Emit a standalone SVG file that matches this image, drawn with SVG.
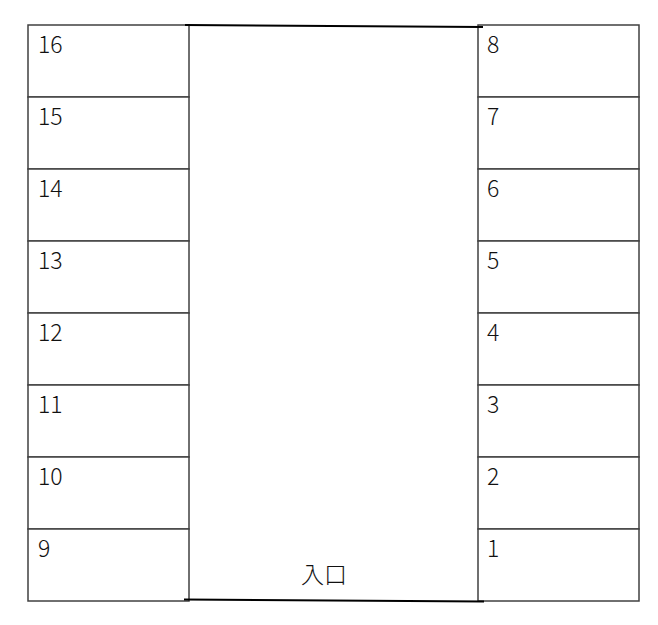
<svg xmlns="http://www.w3.org/2000/svg" width="658" height="625" viewBox="0 0 658 625">
<style>
.cell{fill:#fff;stroke:#404040;stroke-width:1.5}
.lbl{font-family:"Noto Sans CJK JP","Noto Sans",sans-serif;font-size:23px;font-weight:300;fill:#111}
.edge{stroke:#000;stroke-width:2;fill:none}
</style>
<rect width="658" height="625" fill="#fff"/>
<g id="left">
<g id="s16"><rect class="cell" x="28" y="25" width="161" height="72"/><text class="lbl" x="38" y="53">16</text></g>
<g id="s15"><rect class="cell" x="28" y="97" width="161" height="72"/><text class="lbl" x="38" y="125">15</text></g>
<g id="s14"><rect class="cell" x="28" y="169" width="161" height="72"/><text class="lbl" x="38" y="197">14</text></g>
<g id="s13"><rect class="cell" x="28" y="241" width="161" height="72"/><text class="lbl" x="38" y="269">13</text></g>
<g id="s12"><rect class="cell" x="28" y="313" width="161" height="72"/><text class="lbl" x="38" y="341">12</text></g>
<g id="s11"><rect class="cell" x="28" y="385" width="161" height="72"/><text class="lbl" x="38" y="413">11</text></g>
<g id="s10"><rect class="cell" x="28" y="457" width="161" height="72"/><text class="lbl" x="38" y="485">10</text></g>
<g id="s9"><rect class="cell" x="28" y="529" width="161" height="72"/><text class="lbl" x="38" y="557">9</text></g>
</g>
<g id="right">
<g id="s8"><rect class="cell" x="478" y="25" width="161" height="72"/><text class="lbl" x="487" y="53">8</text></g>
<g id="s7"><rect class="cell" x="478" y="97" width="161" height="72"/><text class="lbl" x="487" y="125">7</text></g>
<g id="s6"><rect class="cell" x="478" y="169" width="161" height="72"/><text class="lbl" x="487" y="197">6</text></g>
<g id="s5"><rect class="cell" x="478" y="241" width="161" height="72"/><text class="lbl" x="487" y="269">5</text></g>
<g id="s4"><rect class="cell" x="478" y="313" width="161" height="72"/><text class="lbl" x="487" y="341">4</text></g>
<g id="s3"><rect class="cell" x="478" y="385" width="161" height="72"/><text class="lbl" x="487" y="413">3</text></g>
<g id="s2"><rect class="cell" x="478" y="457" width="161" height="72"/><text class="lbl" x="487" y="485">2</text></g>
<g id="s1"><rect class="cell" x="478" y="529" width="161" height="72"/><text class="lbl" x="487" y="557">1</text></g>
</g>
<g id="connectors">
<line class="edge" x1="185" y1="25" x2="483" y2="27"/>
<line class="edge" x1="184" y1="599.5" x2="484" y2="601.5"/>
</g>
<g id="entrance"><text class="lbl" x="324" y="583" text-anchor="middle">入口</text></g>
</svg>
